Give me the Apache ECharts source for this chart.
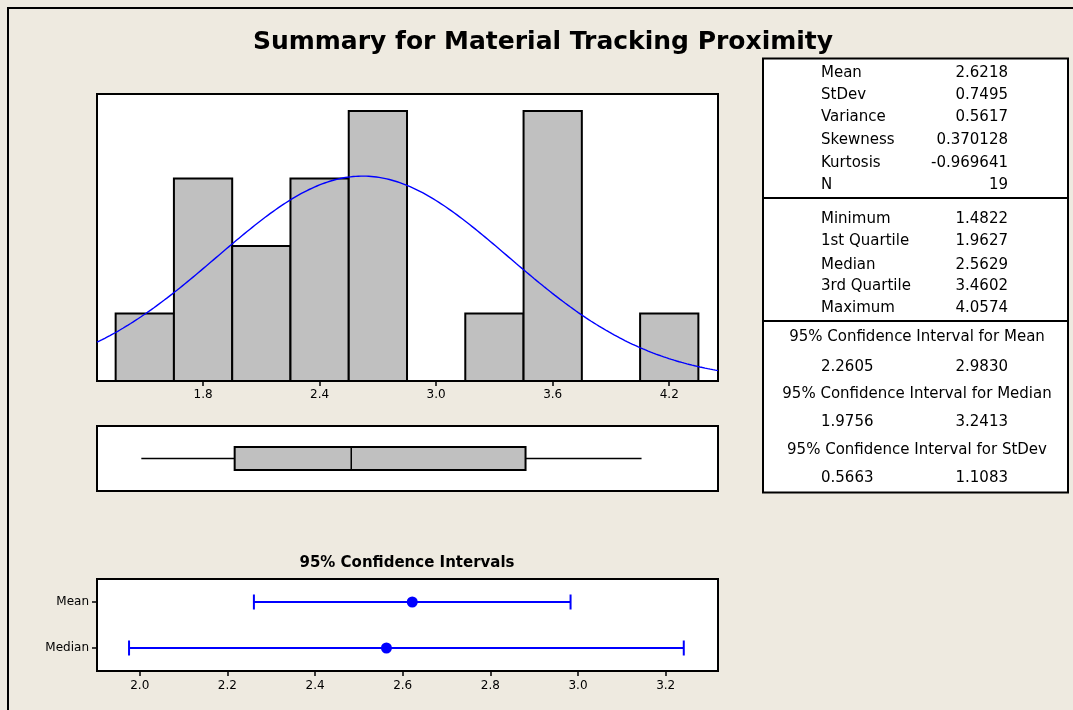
<!DOCTYPE html>
<html>
<head>
<meta charset="utf-8">
<style>
  html, body { margin: 0; padding: 0; background: #EEEAE0; }
  #chart { width: 1073px; height: 710px; }
</style>
<script src="https://cdn.jsdelivr.net/npm/echarts@6.0.0/dist/echarts.min.js"></script>
</head>
<body>
<div id="chart"></div>
<script>
// Histogram bins (edges) and counts
const binEdges = [1.35, 1.65, 1.95, 2.25, 2.55, 2.85, 3.15, 3.45, 3.75, 4.05, 4.35];
const binCounts = [1, 3, 2, 3, 4, 0, 1, 4, 0, 1];
const histTicks = [1.8, 2.4, 3.0, 3.6, 4.2];

// Descriptive statistics
const statLabels = ['Mean', 'StDev', 'Variance', 'Skewness', 'Kurtosis', 'N'];
const statValues = ['2.6218', '0.7495', '0.5617', '0.370128', '-0.969641', '19'];
const mean = 2.6218;
const stdev = 0.7495;
const sampleN = 19;

// Five-number summary
const quartileLabels = ['Minimum', '1st Quartile', 'Median', '3rd Quartile', 'Maximum'];
const quartileValues = [1.4822, 1.9627, 2.5629, 3.4602, 4.0574];

// Confidence intervals
const ciTitles = ['95% Confidence Interval for Mean', '95% Confidence Interval for Median', '95% Confidence Interval for StDev'];
const ciMean = [2.2605, 2.9830];
const ciMedian = [1.9756, 3.2413];
const ciStDev = [0.5663, 1.1083];
const ciCategories = ['Mean', 'Median'];
const ciTicks = [2.0, 2.2, 2.4, 2.6, 2.8, 3.0, 3.2];

const FONT = '"DejaVu Sans", Verdana, sans-serif';
const BLUE = '#0000FF';

const histMin = 1.254, histMax = 4.451;
const ciMin = 1.9025, ciMax = 3.3194;

// fitted normal curve, scaled to counts (N * bin width)
const binWidth = binEdges[1] - binEdges[0];
const normalCurve = [];
for (let i = 0; i <= 240; i++) {
  const x = histMin + (histMax - histMin) * i / 240;
  const z = (x - mean) / stdev;
  normalCurve.push([x, sampleN * binWidth * Math.exp(-0.5 * z * z) / (stdev * Math.sqrt(2 * Math.PI))]);
}

const histData = binCounts.map((c, i) => [binEdges[i], binEdges[i + 1], c]);

const chart = echarts.init(document.getElementById('chart'), null, { renderer: 'canvas' });

// frame, titles and the statistics table
const g = [];
g.push({ type: 'rect', shape: { x: 8, y: 8, width: 1200, height: 800 }, style: { fill: 'none', stroke: '#000', lineWidth: 2 }, silent: true });
g.push({ type: 'text', style: { text: 'Summary for Material Tracking Proximity', x: 543, y: 42, align: 'center', verticalAlign: 'middle', font: 'bold 25px ' + FONT, fill: '#000' } });
g.push({ type: 'text', style: { text: '95% Confidence Intervals', x: 407, y: 563, align: 'center', verticalAlign: 'middle', font: 'bold 15px ' + FONT, fill: '#000' } });

const tx0 = 763, tx1 = 1068;
g.push({ type: 'rect', shape: { x: tx0, y: 58.5, width: tx1 - tx0, height: 492.5 - 58.5 }, style: { fill: '#fff', stroke: '#000', lineWidth: 2 }, z: 1 });
g.push({ type: 'line', shape: { x1: tx0, y1: 198, x2: tx1, y2: 198 }, style: { stroke: '#000', lineWidth: 2 }, z: 2 });
g.push({ type: 'line', shape: { x1: tx0, y1: 321, x2: tx1, y2: 321 }, style: { stroke: '#000', lineWidth: 2 }, z: 2 });

const labX = 821, valX = 1008;
const tFont = '15px ' + FONT;
function txt(text, x, y, align) {
  g.push({ type: 'text', z: 3, style: { text: text, x: x, y: y, align: align, verticalAlign: 'middle', font: tFont, fill: '#000' } });
}
const statRows = [73, 95, 117.5, 140.5, 163, 185.5];
statLabels.forEach((l, i) => { txt(l, labX, statRows[i], 'left'); txt(statValues[i], valX, statRows[i], 'right'); });
const qRows = [219, 241, 265, 286.5, 308.5];
quartileLabels.forEach((l, i) => { txt(l, labX, qRows[i], 'left'); txt(quartileValues[i].toFixed(4), valX, qRows[i], 'right'); });
const ciRows = [[337, 367], [394, 422.5], [450, 478]];
[ciMean, ciMedian, ciStDev].forEach((ci, i) => {
  txt(ciTitles[i], 917, ciRows[i][0], 'center');
  txt(ci[0].toFixed(4), labX, ciRows[i][1], 'left');
  txt(ci[1].toFixed(4), valX, ciRows[i][1], 'right');
});

const gridStyle = { show: true, backgroundColor: '#fff', borderColor: '#000', borderWidth: 2, containLabel: false };

const option = {
  backgroundColor: '#EEEAE0',
  animation: false,
  grid: [
    Object.assign({ left: 97, top: 94, width: 621, height: 287 }, gridStyle),
    Object.assign({ left: 97, top: 426, width: 621, height: 65 }, gridStyle),
    Object.assign({ left: 97, top: 579, width: 621, height: 92 }, gridStyle)
  ],
  xAxis: [
    {
      gridIndex: 0, type: 'value', min: histMin, max: histMax,
      axisLine: { show: false }, splitLine: { show: false },
      axisTick: { show: true, customValues: histTicks, length: 5, lineStyle: { color: '#000', width: 1.5 } },
      axisLabel: { show: true, customValues: histTicks, color: '#000', fontSize: 12, fontFamily: FONT, margin: 8, formatter: v => v.toFixed(1) }
    },
    {
      gridIndex: 1, type: 'value', min: histMin, max: histMax,
      axisLine: { show: false }, splitLine: { show: false }, axisTick: { show: false }, axisLabel: { show: false }
    },
    {
      gridIndex: 2, type: 'value', min: ciMin, max: ciMax,
      axisLine: { show: false }, splitLine: { show: false },
      axisTick: { show: true, customValues: ciTicks, length: 5, lineStyle: { color: '#000', width: 1.5 } },
      axisLabel: { show: true, customValues: ciTicks, color: '#000', fontSize: 12, fontFamily: FONT, margin: 9, formatter: v => v.toFixed(1) }
    }
  ],
  yAxis: [
    { gridIndex: 0, type: 'value', min: 0, max: 4.25, show: false },
    { gridIndex: 1, type: 'value', min: 0, max: 1, show: false },
    {
      gridIndex: 2, type: 'category', data: ciCategories, inverse: true,
      axisLine: { show: false }, splitLine: { show: false },
      axisTick: { show: true, alignWithLabel: true, length: 5, lineStyle: { color: '#000', width: 1.5 } },
      axisLabel: { color: '#000', fontSize: 12, fontFamily: FONT, margin: 8 }
    }
  ],
  graphic: g,
  series: [
    {
      type: 'custom', xAxisIndex: 0, yAxisIndex: 0, data: histData,
      encode: { x: [0, 1], y: 2 },
      renderItem: function (params, api) {
        const p0 = api.coord([api.value(0), api.value(2)]);
        const p1 = api.coord([api.value(1), 0]);
        return {
          type: 'rect',
          shape: { x: p0[0], y: p0[1], width: p1[0] - p0[0], height: p1[1] - p0[1] },
          style: { fill: '#C0C0C0', stroke: '#000', lineWidth: 2 }
        };
      },
      z: 2
    },
    {
      type: 'line', xAxisIndex: 0, yAxisIndex: 0, data: normalCurve,
      showSymbol: false, smooth: false,
      lineStyle: { color: BLUE, width: 1.4 }, z: 3
    },
    {
      type: 'custom', xAxisIndex: 1, yAxisIndex: 1,
      data: [quartileValues.concat([0.5])],
      encode: { x: [0, 1, 2, 3, 4], y: 5 },
      renderItem: function (params, api) {
        const yv = api.value(5);
        const pMin = api.coord([api.value(0), yv]);
        const pQ1 = api.coord([api.value(1), yv]);
        const pMed = api.coord([api.value(2), yv]);
        const pQ3 = api.coord([api.value(3), yv]);
        const pMax = api.coord([api.value(4), yv]);
        const h = 11.5;
        const ls = { stroke: '#000', lineWidth: 1.5 };
        return {
          type: 'group',
          children: [
            { type: 'line', shape: { x1: pMin[0], y1: pMin[1], x2: pQ1[0], y2: pQ1[1] }, style: ls },
            { type: 'line', shape: { x1: pQ3[0], y1: pQ3[1], x2: pMax[0], y2: pMax[1] }, style: ls },
            { type: 'rect', shape: { x: pQ1[0], y: pQ1[1] - h, width: pQ3[0] - pQ1[0], height: 2 * h }, style: { fill: '#C0C0C0', stroke: '#000', lineWidth: 2 } },
            { type: 'line', shape: { x1: pMed[0], y1: pMed[1] - h, x2: pMed[0], y2: pMed[1] + h }, style: ls }
          ]
        };
      }
    },
    {
      type: 'custom', xAxisIndex: 2, yAxisIndex: 2,
      data: [
        [ciMean[0], ciMean[1], mean, 0],
        [ciMedian[0], ciMedian[1], quartileValues[2], 1]
      ],
      encode: { x: [0, 1, 2], y: 3 },
      renderItem: function (params, api) {
        const c = api.value(3);
        const pL = api.coord([api.value(0), c]);
        const pH = api.coord([api.value(1), c]);
        const pC = api.coord([api.value(2), c]);
        const cap = 7.5;
        const ls = { stroke: BLUE, lineWidth: 2 };
        return {
          type: 'group',
          children: [
            { type: 'line', shape: { x1: pL[0], y1: pL[1], x2: pH[0], y2: pH[1] }, style: ls },
            { type: 'line', shape: { x1: pL[0], y1: pL[1] - cap, x2: pL[0], y2: pL[1] + cap }, style: ls },
            { type: 'line', shape: { x1: pH[0], y1: pH[1] - cap, x2: pH[0], y2: pH[1] + cap }, style: ls },
            { type: 'circle', shape: { cx: pC[0], cy: pC[1], r: 5.5 }, style: { fill: BLUE } }
          ]
        };
      }
    }
  ]
};

chart.setOption(option);
</script>
</body>
</html>
